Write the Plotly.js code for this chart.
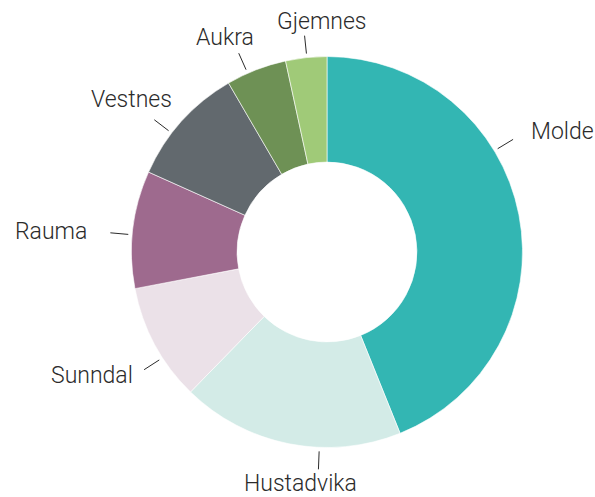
<!DOCTYPE html>
<html><head><meta charset="utf-8">
<script src="https://cdn.plot.ly/plotly-3.0.1.min.js"></script>
<style>html,body{margin:0;padding:0;background:#fff}#chart{width:595px;height:497px}</style>
</head><body><div id="chart"></div>
<script>
var labels = ["Molde","Hustadvika","Sunndal","Rauma","Vestnes","Aukra","Gjemnes"];
var values = [43.9,18.4,9.7,9.7,9.9,5.0,3.4];
var colors = ["#33b6b3","#d3ebe7","#ebe1e8","#9e6a8e","#62696e","#6e9155","#a0ca78"];
// label styling: angular nudge (deg) for leader lines, text offsets (px) from line end
var labelShift = [-20.2,-8.9,-4.5,-1.6,-4.5,-2.7,0.2];
var textDx = [16,-18,-9,-21,-23,-14,17];
var textDy = [-8,14,6,-1,-20,-16,-14];
var textAnchor = ["left","center","right","right","center","center","center"];

var W=595,H=497;
var cx=327, cy=252, R=195.5;
var dom = {x:[(cx-R)/W,(cx+R)/W], y:[(H-cy-R)/H,(H-cy+R)/H]};
var total = values.reduce(function(a,b){return a+b;},0);
var shapes=[], ann=[];
var cum=0;
function px(x){return x/W;} function py(y){return 1-y/H;}
for(var i=0;i<values.length;i++){
  var mid=(cum+values[i]/2)/total*360 + labelShift[i];
  cum+=values[i];
  var a=mid*Math.PI/180, s=Math.sin(a), c=-Math.cos(a);
  var r1=R+4, r2=R+22;
  var ex=cx+r2*s, ey=cy+r2*c;
  shapes.push({type:'line',xref:'paper',yref:'paper',
    x0:px(cx+r1*s),y0:py(cy+r1*c),x1:px(ex),y1:py(ey),
    line:{color:'#2b2b2b',width:1}});
  ann.push({xref:'paper',yref:'paper',x:px(ex+textDx[i]),y:py(ey+textDy[i]),text:labels[i],showarrow:false,
    xanchor:textAnchor[i],yanchor:'middle',
    font:{family:'Roboto',weight:300,size:23,color:'#2b2b2b'}});
}
var data=[{type:'pie',labels:labels,values:values,sort:false,direction:'clockwise',rotation:0,
  hole:0.46,marker:{colors:colors,line:{color:'#ffffff',width:0.6}},textinfo:'none',
  hoverinfo:'label+percent',domain:dom,showlegend:false}];
var layout={width:W,height:H,margin:{l:0,r:0,t:0,b:0},paper_bgcolor:'#fff',
  shapes:shapes,annotations:ann,showlegend:false};
Plotly.newPlot('chart',data,layout,{displayModeBar:false,staticPlot:true});
</script></body></html>
